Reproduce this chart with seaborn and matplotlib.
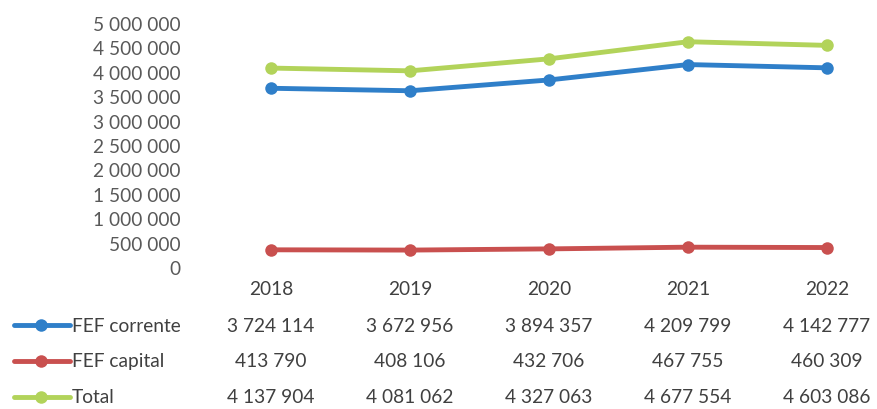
import matplotlib
matplotlib.use("Agg")
import matplotlib.pyplot as plt
import matplotlib.transforms as mtransforms
from matplotlib.lines import Line2D
from matplotlib.ticker import FuncFormatter
import seaborn as sns
import pandas as pd

years = ["2018", "2019", "2020", "2021", "2022"]
fef_corrente = [3724114, 3672956, 3894357, 4209799, 4142777]
fef_capital = [413790, 408106, 432706, 467755, 460309]
total = [4137904, 4081062, 4327063, 4677554, 4603086]
series_names = ["FEF corrente", "FEF capital", "Total"]
series_values = [fef_corrente, fef_capital, total]
colors = ["#2F7FC9", "#C9504F", "#B2D35A"]
y_ticks = list(range(0, 5000001, 500000))

sns.set_theme(style="white")
plt.rcParams["font.family"] = ["Lato", "DejaVu Sans"]

rows = []
for name, vals in zip(series_names, series_values):
    for i, (yr, v) in enumerate(zip(years, vals)):
        rows.append({"pos": i, "year": yr, "value": v, "serie": name})
df = pd.DataFrame(rows)

FS = 13.8
W, H = 877, 410
fig = plt.figure(figsize=(W / 100, H / 100), dpi=100)
# axes: left 203px, right 877px, top y=27, bottom y=271
ax = fig.add_axes([203 / W, 1 - 271 / H, (877 - 203) / W, (271 - 27) / H])

palette = dict(zip(series_names, colors))
sns.lineplot(data=df, x="pos", y="value", hue="serie", palette=palette,
             hue_order=series_names, marker="o", markersize=9, linewidth=3.5,
             markeredgewidth=0, legend=False, ax=ax)

ax.set_ylim(0, 5000000)
ax.set_xlim(-0.49, 4.36)
ax.set_yticks(y_ticks)
ax.yaxis.set_major_formatter(FuncFormatter(lambda v, p: f"{int(v):,}".replace(",", " ")))
ax.tick_params(axis="y", labelsize=FS, colors="#595959", length=0, pad=16)
lift = mtransforms.ScaledTranslation(0, 3 / 100, fig.dpi_scale_trans)
for lab in ax.get_yticklabels():
    lab.set_transform(lab.get_transform() + lift)
ax.set_xticks([])
ax.set_xlabel("")
ax.set_ylabel("")
for s in ax.spines.values():
    s.set_visible(False)

# year header row and data table
text_color = "#404040"
for i, yr in enumerate(years):
    xd = ax.transData.transform((i, 0))[0]
    fig.text(xd / W, 1 - 290 / H, yr, ha="center", va="center",
             fontsize=FS, color=text_color)

row_y = [326, 362, 398]
for name, vals, col, ry in zip(series_names, series_values, colors, row_y):
    yf = 1 - ry / H
    fig.lines.append(Line2D([14 / W, 70 / W], [yf, yf], transform=fig.transFigure,
                            color=col, linewidth=3.5))
    fig.lines.append(Line2D([41 / W], [yf], transform=fig.transFigure, color=col,
                            marker="o", markersize=9, markeredgewidth=0))
    fig.text(72 / W, yf, name, ha="left", va="center", fontsize=FS, color=text_color)
    for i, v in enumerate(vals):
        xd = ax.transData.transform((i, 0))[0]
        fig.text(xd / W, yf, f"{v:,}".replace(",", " "), ha="center",
                 va="center", fontsize=FS, color=text_color)

fig.savefig("out.png", dpi=100)
